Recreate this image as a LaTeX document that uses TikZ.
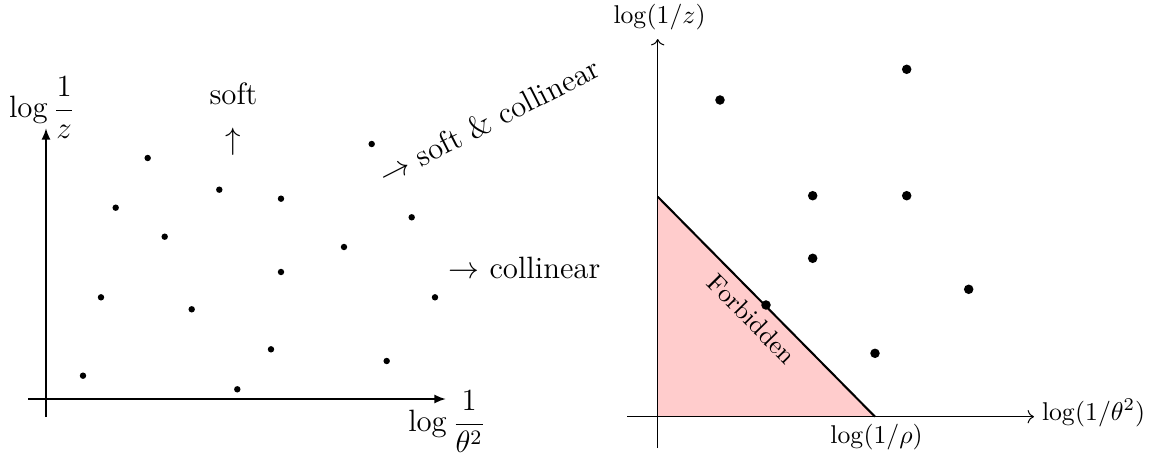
\documentclass[tikz,border=0pt]{standalone}
\usetikzlibrary{arrows.meta}
\begin{document}
\begin{tikzpicture}[x=0.389pt,y=-0.389pt,
  lbl/.style={font=\fontsize{12}{14}\selectfont, inner sep=0pt},
  rlbl/.style={font=\fontsize{10}{12}\selectfont, inner sep=0pt},
  laxis/.style={thick,-{Latex[length=4.5pt,width=3.5pt]}},
  raxis/.style={->},
  ldot/.style={circle,fill,inner sep=0pt,minimum size=2.5pt},
  rdot/.style={circle,fill,inner sep=0pt,minimum size=3.7pt},
  hyp/.style={thick}]
\useasboundingbox (0,0) rectangle (1150,454);

% ---------- left plot ----------
\coordinate (lxs) at (28,399);
\coordinate (lxe) at (446,399);
\coordinate (lys) at (46,417);
\coordinate (lye) at (46,128);
\draw[laxis] (lxs) -- (lxe);
\draw[laxis] (lys) -- (lye);
\node[lbl] (lzlab) at (42,108) {$\displaystyle\log\frac{1}{z}$};
\node[lbl] (ltlab) at (447,422) {$\displaystyle\log\frac{1}{\theta^2}$};

\node[lbl] (soft) at (233.5,94) {soft};
\node[lbl] (softarr) at (233.3,141.5) {$\uparrow$};
\node[lbl, rotate=27] (sc) at (489,121) {$\rightarrow$ soft \& collinear};
\node[lbl] (coll) at (524.5,267.5) {$\rightarrow$ collinear};

\foreach \x/\y [count=\i] in {83/375.7,101/297.3,115.7/207.7,147.7/158,164.7/236.7,
  191.7/309.3,219.3/189.7,237.3/389.3,271/349.3,281/198.7,281/272,344/247,
  371.7/144,386.7/361,411.7/217.3,435/297.3}
  \node[ldot] (ld\i) at (\x,\y) {};

% ---------- right plot ----------
\coordinate (O) at (657.7,416.7);
\coordinate (T) at (657.7,196.7);
\coordinate (R) at (875,416.7);
\coordinate (rxs) at (627,416.7);
\coordinate (rxe) at (1034,416.7);
\coordinate (rys) at (657.7,448);
\coordinate (rye) at (657.7,39);
\fill[red!20] (O) -- (T) -- (R) -- cycle;
\draw[raxis] (rxs) -- (rxe);
\draw[raxis] (rys) -- (rye);
\draw[hyp] (T) -- (R);
\node[rlbl] (rzlab) at (659.5,17) {$\log(1/z)$};
\node[rlbl, anchor=west] (rtlab) at (1041.5,413) {$\log(1/\theta^2)$};
\node[rlbl] (rholab) at (876.5,437.5) {$\log(1/\rho)$};
\node[rlbl, rotate=-45.4] (forb) at (752,319) {Forbidden};

\foreach \x/\y [count=\i] in {720/100,906.7/69.3,812.7/195.7,906.7/195.7,
  812.7/258.3,968.7/289.3,766/305,875/353.3}
  \node[rdot] (rd\i) at (\x,\y) {};
\end{tikzpicture}
\end{document}
